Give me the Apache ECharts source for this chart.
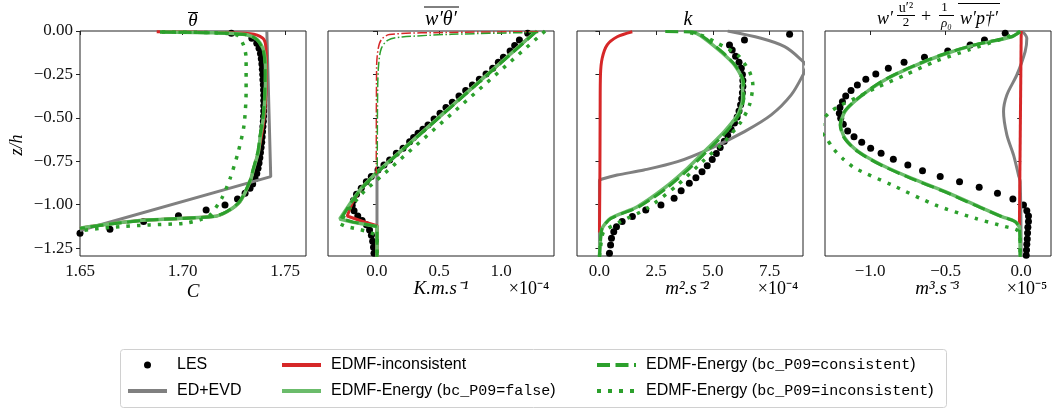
<!DOCTYPE html>
<html><head><meta charset="utf-8">
<script src="https://cdn.jsdelivr.net/npm/echarts@6/dist/echarts.min.js"></script>
<style>html,body{margin:0;padding:0;background:#fff}#c{width:1054px;height:414px}</style>
</head><body><div id="c"></div>
<script>
// ---------------- DATA (x value, z/h) ----------------
const yTicks = [0, -0.25, -0.5, -0.75, -1.0, -1.25];
const p1Ticks = [1.65, 1.70, 1.75];
const p2Ticks = [0, 0.5, 1.0];
const p3Ticks = [0, 2.5, 5.0, 7.5];
const p4Ticks = [-1.0, -0.5, 0.0];

// Panel 1: mean theta
const p1_les = [[1.7238,-0.013],[1.7338,-0.042],[1.7362,-0.071],[1.7373,-0.10],[1.738,-0.13],[1.7384,-0.16],[1.7387,-0.19],[1.7389,-0.22],[1.7391,-0.25],[1.7392,-0.28],[1.7394,-0.31],[1.7395,-0.34],[1.7396,-0.37],[1.7396,-0.40],[1.7396,-0.43],[1.7396,-0.46],[1.7395,-0.49],[1.7394,-0.52],[1.7392,-0.55],[1.739,-0.58],[1.7388,-0.61],[1.7386,-0.64],[1.7383,-0.67],[1.738,-0.70],[1.7377,-0.73],[1.7373,-0.76],[1.7368,-0.79],[1.7362,-0.82],[1.7354,-0.85],[1.7342,-0.88],[1.7329,-0.905],[1.7305,-0.934],[1.7268,-0.967],[1.7207,-1.001],[1.7115,-1.03],[1.698,-1.063],[1.681,-1.097],[1.6646,-1.141],[1.65,-1.164]];
const p1_gray = [[1.7411,0],[1.7430,-0.838],[1.65,-1.148]];
const p1_red = [[1.6874,-0.004],[1.714,-0.008],[1.733,-0.016],[1.739,-0.04],[1.7405,-0.08],[1.7409,-0.2],[1.7407,-0.35],[1.7398,-0.5],[1.7385,-0.6],[1.737,-0.694],[1.7345,-0.8],[1.7329,-0.867],[1.728,-0.982],[1.7216,-1.04],[1.715,-1.068],[1.684,-1.087],[1.665,-1.11],[1.65,-1.135]];
const p1_green = [[1.689,-0.006],[1.712,-0.01],[1.7305,-0.02],[1.736,-0.045],[1.7392,-0.1],[1.7402,-0.157],[1.7405,-0.25],[1.7403,-0.35],[1.7394,-0.5],[1.738,-0.6],[1.737,-0.694],[1.7345,-0.8],[1.7329,-0.867],[1.728,-0.982],[1.7216,-1.04],[1.715,-1.068],[1.684,-1.087],[1.665,-1.11],[1.65,-1.135]];
const p1_dash = [[1.689,-0.006],[1.712,-0.01],[1.7303,-0.02],[1.7358,-0.045],[1.739,-0.1],[1.74,-0.157],[1.7403,-0.25],[1.7401,-0.35],[1.7392,-0.5],[1.7378,-0.6],[1.7367,-0.694],[1.7343,-0.8],[1.7327,-0.867],[1.7278,-0.982],[1.7214,-1.04],[1.7148,-1.068],[1.684,-1.088],[1.665,-1.111],[1.65,-1.136]];
const p1_dot = [[1.69,-0.006],[1.715,-0.01],[1.7264,-0.023],[1.7297,-0.08],[1.731,-0.157],[1.731,-0.349],[1.730,-0.541],[1.7272,-0.694],[1.7232,-0.848],[1.7191,-0.963],[1.7134,-1.059],[1.7085,-1.087],[1.7004,-1.107],[1.6841,-1.116],[1.665,-1.13],[1.65,-1.15]];

// Panel 2: w'theta' (x 1e-4)
const p2_les = [[1.215,-0.013],[1.148,-0.052],[1.11,-0.083],[1.073,-0.115],[1.019,-0.151],[0.978,-0.18],[0.933,-0.215],[0.879,-0.247],[0.825,-0.278],[0.769,-0.311],[0.715,-0.343],[0.661,-0.374],[0.607,-0.41],[0.556,-0.441],[0.508,-0.474],[0.46,-0.507],[0.411,-0.541],[0.37,-0.565],[0.331,-0.589],[0.295,-0.613],[0.263,-0.637],[0.21,-0.675],[0.156,-0.704],[0.102,-0.742],[0.056,-0.771],[0.008,-0.8],[-0.046,-0.838],[-0.086,-0.867],[-0.127,-0.905],[-0.165,-0.94],[-0.19,-0.975],[-0.2,-1.005],[-0.185,-1.035],[-0.155,-1.065],[-0.12,-1.09],[-0.085,-1.115],[-0.06,-1.145],[-0.045,-1.175],[-0.035,-1.21],[-0.028,-1.245],[-0.024,-1.279]];
const p2_gray = [[1.285,0],[0,-0.812],[0,-1.3]];
const p2_red = [[1.285,0],[0,-0.812],[-0.127,-0.905],[-0.2,-0.99],[-0.24,-1.065],[-0.12,-1.095],[0,-1.12],[0,-1.3]];
const p2_green = [[1.285,0],[0,-0.812],[-0.127,-0.905],[-0.207,-0.982],[-0.30,-1.082],[-0.2,-1.1],[0,-1.125],[0,-1.3]];
const p2_dash = [[1.29,0],[0,-0.815],[-0.125,-0.907],[-0.205,-0.985],[-0.29,-1.08],[-0.19,-1.1],[0,-1.125],[0,-1.3]];
const p2_dot = [[1.355,0],[0.06,-0.82],[-0.1,-0.92],[-0.2,-1.0],[-0.27,-1.07],[-0.3,-1.11],[-0.25,-1.126],[-0.153,-1.14],[-0.073,-1.155],[0,-1.175],[0,-1.3]];
const p2_ddRed = [[1.3,-0.004],[0.6,-0.008],[0.1,-0.02],[0.035,-0.05],[0.01,-0.1],[-0.003,-0.2],[-0.006,-0.82]];
const p2_ddGreen = [[1.3,-0.008],[0.6,-0.019],[0.2,-0.035],[0.089,-0.052],[0.035,-0.1],[0.013,-0.196],[0.005,-0.35],[0.002,-0.82]];

// Panel 3: k (x 1e-4)
const p3_les = [[8.38,-0.019],[6.39,-0.052],[5.73,-0.08],[5.85,-0.11],[6.0,-0.145],[6.15,-0.18],[6.25,-0.215],[6.3,-0.25],[6.32,-0.285],[6.32,-0.32],[6.3,-0.355],[6.27,-0.39],[6.22,-0.425],[6.15,-0.46],[6.07,-0.495],[5.95,-0.53],[5.8,-0.565],[5.65,-0.6],[5.5,-0.635],[5.32,-0.67],[5.15,-0.705],[4.97,-0.74],[4.75,-0.775],[4.52,-0.81],[4.25,-0.845],[3.96,-0.876],[3.6,-0.92],[3.29,-0.963],[2.71,-1.001],[2.04,-1.03],[1.45,-1.068],[1.0,-1.097],[0.75,-1.126],[0.63,-1.155],[0.53,-1.193],[0.49,-1.231],[0.44,-1.279]];
const p3_gray = [[5.65,0],[7.12,-0.042],[8.16,-0.09],[8.82,-0.157],[9.12,-0.205],[8.97,-0.253],[8.45,-0.368],[7.57,-0.483],[6.39,-0.579],[4.91,-0.675],[3.44,-0.752],[1.96,-0.8],[0.78,-0.829],[0.12,-0.852],[0,-0.86],[0,-1.3]];
const p3_red = [[1.447,-0.004],[0.783,-0.033],[0.341,-0.08],[0.12,-0.157],[0.044,-0.253],[0.03,-0.445],[0.02,-0.8],[0.0,-1.16]];
const p3_green = [[4.0,-0.003],[4.3,-0.015],[4.62,-0.042],[5.35,-0.119],[5.95,-0.196],[6.31,-0.292],[6.31,-0.388],[6.09,-0.483],[5.5,-0.579],[4.77,-0.675],[3.88,-0.79],[2.85,-0.905],[1.67,-1.011],[0.49,-1.078],[0.12,-1.135],[0.04,-1.21],[0,-1.3]];
const p3_dash = [[2.9,-0.003],[4.2,-0.008],[4.7,-0.045],[5.42,-0.122],[6.0,-0.2],[6.35,-0.292],[6.36,-0.388],[6.15,-0.483],[5.6,-0.579],[4.87,-0.675],[3.98,-0.79],[2.95,-0.905],[1.75,-1.011],[0.52,-1.078],[0.12,-1.135],[0.04,-1.21],[0,-1.3]];
const p3_dot = [[4.0,-0.01],[4.6,-0.03],[5.21,-0.071],[6.09,-0.138],[6.61,-0.234],[6.76,-0.311],[6.61,-0.426],[6.24,-0.522],[5.5,-0.637],[4.54,-0.752],[3.44,-0.886],[2.11,-1.02],[0.93,-1.097],[0.19,-1.155],[0.05,-1.24],[0,-1.3]];

// Panel 4: TKE flux (x 1e-5)
const p4_les = [[-0.106,-0.013],[-0.243,-0.052],[-0.338,-0.08],[-0.486,-0.115],[-0.64,-0.151],[-0.775,-0.18],[-0.879,-0.215],[-0.962,-0.247],[-1.028,-0.278],[-1.084,-0.311],[-1.126,-0.343],[-1.161,-0.374],[-1.183,-0.407],[-1.199,-0.441],[-1.203,-0.474],[-1.194,-0.502],[-1.177,-0.537],[-1.148,-0.575],[-1.106,-0.608],[-1.055,-0.641],[-0.996,-0.675],[-0.927,-0.704],[-0.846,-0.738],[-0.75,-0.771],[-0.653,-0.804],[-0.536,-0.838],[-0.408,-0.867],[-0.278,-0.9],[-0.157,-0.934],[-0.055,-0.967],[0.015,-1.001],[0.037,-1.034],[0.048,-1.065],[0.048,-1.097],[0.044,-1.13],[0.042,-1.163],[0.04,-1.197],[0.037,-1.228],[0.035,-1.26],[0.033,-1.29]];
const p4_gray = [[0.005,0],[0.037,-0.042],[0.026,-0.119],[-0.029,-0.253],[-0.095,-0.368],[-0.117,-0.464],[-0.095,-0.598],[-0.051,-0.713],[-0.018,-0.829],[-0.007,-0.867],[0,-1.3]];
const p4_red = [[0.0,0],[-0.012,-1.12]];
const p4_green = [[-0.007,-0.004],[-0.062,-0.033],[-0.305,-0.08],[-0.525,-0.138],[-0.746,-0.215],[-0.923,-0.292],[-1.077,-0.387],[-1.166,-0.464],[-1.195,-0.541],[-1.166,-0.617],[-1.077,-0.694],[-0.923,-0.771],[-0.724,-0.848],[-0.503,-0.925],[-0.305,-1.001],[-0.128,-1.068],[-0.04,-1.097],[-0.011,-1.135],[-0.007,-1.3]];
const p4_dash = [[-0.007,-0.004],[-0.065,-0.033],[-0.31,-0.08],[-0.53,-0.138],[-0.75,-0.215],[-0.928,-0.292],[-1.08,-0.387],[-1.17,-0.464],[-1.198,-0.541],[-1.17,-0.617],[-1.082,-0.694],[-0.93,-0.771],[-0.73,-0.848],[-0.508,-0.925],[-0.31,-1.001],[-0.13,-1.068],[-0.042,-1.097],[-0.011,-1.135],[-0.007,-1.3]];
const p4_dot = [[-0.007,-0.004],[-0.15,-0.052],[-0.35,-0.11],[-0.57,-0.176],[-0.768,-0.253],[-0.967,-0.33],[-1.08,-0.38],[-1.2,-0.43],[-1.27,-0.47],[-1.32,-0.53],[-1.32,-0.58],[-1.287,-0.62],[-1.24,-0.68],[-1.18,-0.735],[-1.099,-0.79],[-0.856,-0.886],[-0.57,-1.001],[-0.305,-1.078],[-0.106,-1.126],[-0.029,-1.145],[-0.007,-1.19],[-0.007,-1.3]];

const names = ['LES','ED+EVD','EDMF-inconsistent','EDMF-Energy (bc_P09=false)','EDMF-Energy (bc_P09=consistent)','EDMF-Energy (bc_P09=inconsistent)'];

// ---------------- CHART ----------------
const C_RED = '#d62728', C_GRAY = '#808080', C_LG = '#6bbc6b', C_G = '#2ca02c';
const chart = echarts.init(document.getElementById('c'));
const lefts = [80, 328, 577, 825];
const xr = [[1.65,1.7602,p1Ticks,2],[-0.395,1.427,p2Ticks,1],[-0.99,8.97,p3Ticks,1],[-1.298,0.197,p4Ticks,1]];
const fmt = (v,d) => (v < -1e-9 ? '\u2212' : '') + Math.abs(v).toFixed(d);
const tickFont = {fontFamily:'Liberation Serif', fontSize:17, color:'#111'};

const grid = lefts.map(l => ({left:l, top:31, width:226, height:225, show:true, borderColor:'#222', borderWidth:1}));
const xAxis = xr.map((r,i) => ({type:'value', gridIndex:i, min:r[0], max:r[1],
  axisLine:{show:false}, splitLine:{show:false},
  axisTick:{show:true, length:4, lineStyle:{color:'#222'}, customValues:r[2]},
  axisLabel:Object.assign({margin:7, customValues:r[2], formatter:v=>fmt(v,r[3])}, tickFont)}));
const yAxis = lefts.map((l,i) => ({type:'value', gridIndex:i, min:-1.295, max:0,
  axisLine:{show:false}, splitLine:{show:false},
  axisTick:{show:true, length:4, lineStyle:{color:'#222'}, customValues:yTicks},
  axisLabel:Object.assign({show:i===0, margin:7, customValues:yTicks, formatter:v=>fmt(v,2)}, tickFont)}));

function L(name, data, i, color, width, type, smooth) {
  return {type:'line', name, data, xAxisIndex:i, yAxisIndex:i, symbol:'none', showSymbol:false,
    color, lineStyle:{color, width, type, cap:'butt'}, smooth: smooth || false, clip:true,
    animation:false, emphasis:{disabled:true}, z:2};
}
function S(data, i) {
  return {type:'scatter', name:'LES', data, xAxisIndex:i, yAxisIndex:i, symbol:'circle', symbolSize:7,
    color:'#000', itemStyle:{color:'#000', opacity:1}, clip:true, animation:false, emphasis:{disabled:true}, z:1};
}
const DASH = [13,5.5], DOT = [3.5,7];
const panels = [
  [p1_les,p1_gray,p1_red,p1_green,p1_dash,p1_dot],
  [p2_les,p2_gray,p2_red,p2_green,p2_dash,p2_dot],
  [p3_les,p3_gray,p3_red,p3_green,p3_dash,p3_dot],
  [p4_les,p4_gray,p4_red,p4_green,p4_dash,p4_dot]
];
const series = [];
panels.forEach((p,i) => {
  series.push(S(p[0], i));
  series.push(L(names[1], p[1], i, C_GRAY, 3, 'solid', i===0||i===1 ? false : 0.3));
  series.push(L(names[2], p[2], i, C_RED, 3, 'solid', i===1 ? false : 0.3));
  series.push(L(names[3], p[3], i, C_LG, 3.5, 'solid', i===1 ? false : 0.25));
  series.push(L(names[4], p[4], i, C_G, 3, DASH, i===1 ? false : 0.25));
  series.push(L(names[5], p[5], i, C_G, 3.5, DOT, i===1 ? false : 0.25));
});
series.push(L('dd_red', p2_ddRed, 1, C_RED, 1.5, [9.6,2.4,1.5,2.4], 0.3));
series.push(L('dd_green', p2_ddGreen, 1, C_G, 1.5, [9.6,2.4,1.5,2.4], 0.3));

const legText = {fontFamily:'Liberation Sans', fontSize:16, color:'#000', lineHeight:20, padding:[0,0,0,5],
  rich:{m:{fontFamily:'Liberation Mono', fontSize:15, lineHeight:20, color:'#000'}}};
const legFmt = n => n.replace(/bc_P09=(\w+)/, '{m|bc_P09=$1}');
const noSym = (n, type) => ({name:n, itemStyle:{opacity:0, color:'rgba(0,0,0,0)', borderWidth:0},
  lineStyle:{width:4, type: type || 'solid'}});
const mkLeg = (data, left) => ({data, left, top:355, orient:'vertical', itemWidth:39, itemHeight:7, itemGap:6,
  padding:0, selectedMode:false, textStyle:legText, formatter:legFmt});
const legend = [
  mkLeg([{name:'LES', icon:'circle', itemStyle:{color:'#000', opacity:1}}, noSym(names[1])], 126),
  mkLeg([noSym(names[2]), noSym(names[3])], 280),
  mkLeg([noSym(names[4], [13,5.5]), noSym(names[5], [4,7])], 595)
];

const ser = 'Liberation Serif';
const T = (x, y, text, size, style, extra) => Object.assign({type:'text', x, y, silent:true,
  style:{text, fill:'#000', fontFamily:ser, fontSize:size, fontStyle:style||'italic', align:'center', verticalAlign:'middle'}}, extra||{});
const Ln = (x1,y1,x2,y2) => ({type:'line', silent:true, shape:{x1,y1,x2,y2}, style:{stroke:'#000', lineWidth:1}});
const graphic = [
  {type:'rect', silent:true, shape:{x:120.5, y:349.5, width:826, height:58, r:3}, style:{fill:'none', stroke:'#d0d0d0', lineWidth:1}, z:-1},
  T(193, 21, 'θ', 19), Ln(188, 12.5, 198, 12.5),
  T(441, 19.5, 'w′θ′', 20), Ln(424, 7, 459, 7),
  T(688, 20, 'k', 20),
  T(885, 19, 'w′', 18),
  T(906, 8, 'u′²', 14, 'normal', {}),
  Ln(897, 15.5, 915, 15.5),
  T(906, 22.5, '2', 13, 'normal'),
  T(926, 17, '+', 18, 'normal'),
  T(944.5, 8, '1', 13, 'normal'),
  Ln(939, 15.5, 954, 15.5),
  T(946.5, 24, 'ρ₀', 13),
  T(979, 19, 'w′p†′', 18), Ln(958, 3.5, 1000, 3.5),
  T(17, 145, 'z/h', 18, 'italic', {rotation: Math.PI/2}),
  T(193, 292, 'C', 19),
  T(441, 289, 'K.m.s⁻¹', 19),
  T(529, 289, '×10⁻⁴', 18, 'normal'),
  T(687, 289, 'm².s⁻²', 19),
  T(778, 289, '×10⁻⁴', 18, 'normal'),
  T(937, 289, 'm³.s⁻³', 19),
  T(1027, 289, '×10⁻⁵', 18, 'normal')
];

chart.setOption({animation:false, grid, xAxis, yAxis, series, legend, graphic});
</script></body></html>
